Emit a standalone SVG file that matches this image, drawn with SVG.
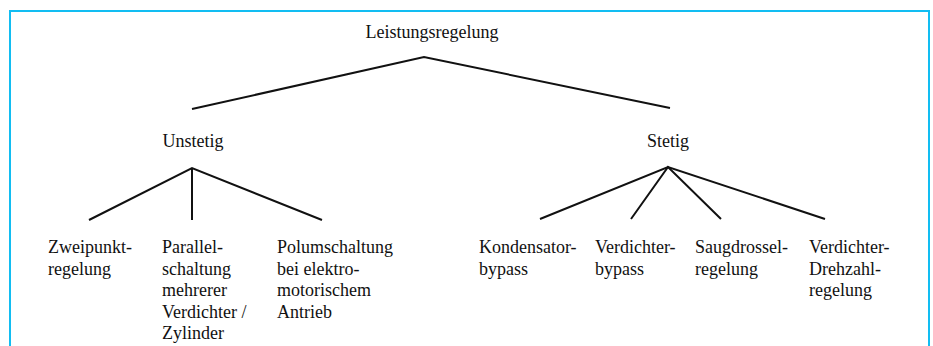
<svg xmlns="http://www.w3.org/2000/svg" width="933" height="346" viewBox="0 0 933 346">
<style>
.t{font-family:"Liberation Serif","Times New Roman",serif;font-size:18px;fill:#111}
.c{text-anchor:middle}
.ln{stroke:#111;stroke-width:2;fill:none;stroke-linejoin:miter}
</style>
<rect width="933" height="346" fill="#fff"/>
<path d="M10,346 V11 H929 V346" fill="none" stroke="#12bdf2" stroke-width="2"/>
<g id="connectors" class="ln">
<polyline points="192,109 424,57 670,108"/>
<polyline points="89,220 192,168 322,220"/>
<line x1="192" y1="168" x2="192" y2="220"/>
<polyline points="540,219 668,167 825,219"/>
<polyline points="631,219 668,167 721,219"/>
</g>
<g id="n-root"><text class="t c" x="432" y="38">Leistungsregelung</text></g>
<g id="n-unstetig"><text class="t c" x="193" y="147">Unstetig</text></g>
<g id="n-stetig"><text class="t c" x="668" y="147">Stetig</text></g>
<g id="n-zweipunkt"><text class="t" x="48" y="253">Zweipunkt-<tspan x="48" dy="21.5">regelung</tspan></text></g>
<g id="n-parallel"><text class="t" x="162" y="253">Parallel-<tspan x="162" dy="21.5">schaltung</tspan><tspan x="162" dy="21.5">mehrerer</tspan><tspan x="162" dy="21.5">Verdichter /</tspan><tspan x="162" dy="21.5">Zylinder</tspan></text></g>
<g id="n-polum"><text class="t" x="277" y="253">Polumschaltung<tspan x="277" dy="21.5">bei elektro-</tspan><tspan x="277" dy="21.5">motorischem</tspan><tspan x="277" dy="21.5">Antrieb</tspan></text></g>
<g id="n-kond"><text class="t" x="479" y="253">Kondensator-<tspan x="479" dy="21.5">bypass</tspan></text></g>
<g id="n-verdbyp"><text class="t" x="595" y="253">Verdichter-<tspan x="595" dy="21.5">bypass</tspan></text></g>
<g id="n-saug"><text class="t" x="695" y="253">Saugdrossel-<tspan x="695" dy="21.5">regelung</tspan></text></g>
<g id="n-drehzahl"><text class="t" x="809" y="253">Verdichter-<tspan x="809" dy="21.5">Drehzahl-</tspan><tspan x="809" dy="21.5">regelung</tspan></text></g>
</svg>
